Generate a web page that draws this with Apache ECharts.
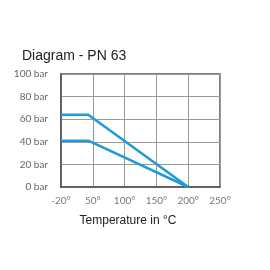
<!DOCTYPE html>
<html>
<head>
<meta charset="utf-8">
<script src="https://cdn.jsdelivr.net/npm/echarts@6/dist/echarts.min.js"></script>
<style>html,body{margin:0;padding:0;background:#fff}#c{width:270px;height:270px}</style>
</head>
<body>
<div id="c"></div>
<script>
var xTickLabels = ['-20°', '50°', '100°', '150°', '200°', '250°'];
var yTickValues = [0, 20, 40, 60, 80, 100];
var upperTemps = [-20, 40, 200];
var upperPressure = [64, 64, 0];
var lowerTemps = [-20, 40, 200];
var lowerPressure = [41, 41, 0];

// axis is non-linear: first interval spans -20..50, others 50 each
function toAxis(t) { return t < 50 ? (t + 20) / 70 * 50 : t; }
function pairs(ts, ps) { return ts.map(function (t, i) { return [toAxis(t), ps[i]]; }); }

var chart = echarts.init(document.getElementById('c'), null, {renderer: 'canvas'});
var labelFont = 'Lato, "DejaVu Sans", sans-serif';
chart.setOption({
  animation: false,
  title: {
    text: 'Diagram - PN 63', left: 17, top: 44,
    textStyle: {fontFamily: '"Liberation Sans", Arial, sans-serif', fontSize: 14, fontWeight: 'normal', color: '#222'}
  },
  grid: {left: 61, right: 50, top: 74, bottom: 83, show: true, borderColor: '#555', borderWidth: 1.5},
  xAxis: {
    type: 'value', min: 0, max: 250, interval: 50,
    name: 'Temperature in °C', nameLocation: 'middle', nameGap: 28,
    nameTextStyle: {fontFamily: '"Liberation Sans", Arial, sans-serif', fontSize: 12, color: '#222', padding: [0, 25, 0, 0]},
    axisLine: {show: true, lineStyle: {color: '#555', width: 1.5}},
    axisTick: {show: false},
    splitLine: {show: true, lineStyle: {color: '#999', width: 1}},
    axisLabel: {
      margin: 9, color: '#777', fontSize: 10, fontFamily: labelFont,
      formatter: function (v) { return xTickLabels[Math.round(v / 50)]; }
    }
  },
  yAxis: {
    type: 'value', min: 0, max: 100, interval: 20,
    axisLine: {show: true, lineStyle: {color: '#555', width: 1.5}},
    axisTick: {show: false},
    splitLine: {show: true, lineStyle: {color: '#999', width: 1}},
    axisLabel: {margin: 13, color: '#666', fontSize: 10, fontFamily: labelFont, formatter: '{value} bar'}
  },
  series: [
    {type: 'line', data: pairs(upperTemps, upperPressure), symbol: 'none', lineStyle: {color: '#1e9bd7', width: 2.5}},
    {type: 'line', data: pairs(lowerTemps, lowerPressure), symbol: 'none', lineStyle: {color: '#1e9bd7', width: 2.5}}
  ]
});
</script>
</body>
</html>
